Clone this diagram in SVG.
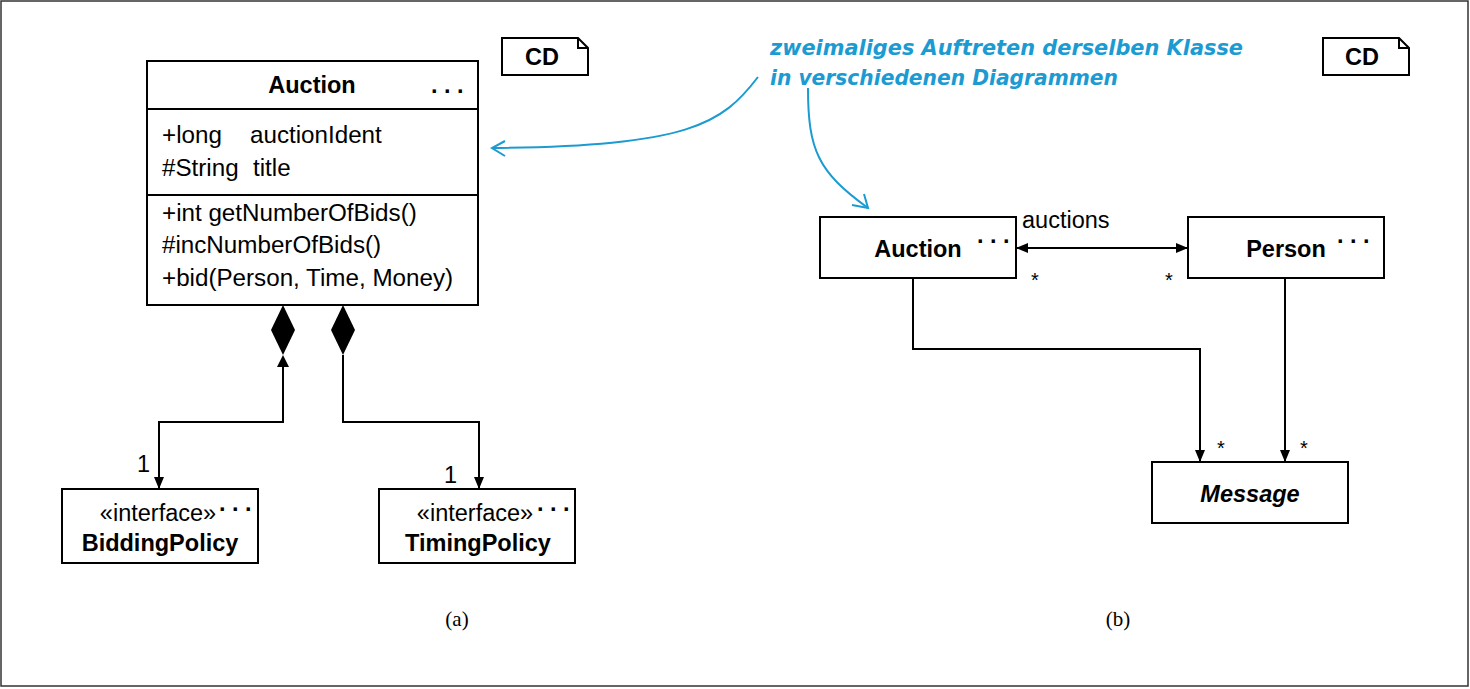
<svg xmlns="http://www.w3.org/2000/svg" width="1470" height="689" viewBox="0 0 1470 689">
<style>
.box{fill:#fff;stroke:#000;stroke-width:2}
.ln{fill:none;stroke:#000;stroke-width:2}
.t{font-family:"Liberation Sans",Arial,sans-serif;font-size:23.5px;fill:#000}
.a{font-size:24.2px}
.b{font-weight:bold}
.dots{font-family:"Liberation Sans",Arial,sans-serif;font-size:23.5px;font-weight:bold;letter-spacing:6.5px}
.star{font-family:"Liberation Sans",Arial,sans-serif;font-size:20px}
.cap{font-family:"Liberation Serif","Times New Roman",serif;font-size:21px}
.note{font-family:"DejaVu Sans",sans-serif;font-size:21px;font-weight:bold;font-style:italic;fill:#1b9bd1}
.blue{fill:none;stroke:#1b9bd1;stroke-width:2}
</style>
<defs>
<marker id="ah" viewBox="0 0 12 10" refX="12" refY="5" markerWidth="12" markerHeight="10" markerUnits="userSpaceOnUse" orient="auto-start-reverse">
<path d="M0,0 L12,5 L0,10 Z" fill="#000"/>
</marker>
</defs>
<rect x="1" y="1" width="1467" height="685" fill="#fff" stroke="#333" stroke-width="1.5"/>

<g id="cd-a">
<path class="box" d="M502,38 H578 L588,48 V75 H502 Z"/>
<path class="ln" d="M578,38 V48 H588" stroke-width="1"/>
<text class="t b" x="542" y="65" text-anchor="middle">CD</text>
</g>
<g id="cd-b">
<path class="box" d="M1323,38 H1399 L1409,48 V75 H1323 Z"/>
<path class="ln" d="M1399,38 V48 H1409" stroke-width="1"/>
<text class="t b" x="1362" y="65" text-anchor="middle">CD</text>
</g>

<g id="auction-a">
<rect class="box" x="147" y="61" width="331" height="244"/>
<line class="ln" x1="147" y1="109" x2="478" y2="109"/>
<line class="ln" x1="147" y1="195" x2="478" y2="195"/>
<text class="t b" x="312" y="93" text-anchor="middle">Auction</text>
<text class="dots" x="431" y="93">...</text>
<text class="t a" x="162" y="143">+long</text>
<text class="t a" x="250" y="143">auctionIdent</text>
<text class="t a" x="162" y="176">#String</text>
<text class="t a" x="253" y="176">title</text>
<text class="t a" x="162" y="221">+int getNumberOfBids()</text>
<text class="t a" x="162" y="253">#incNumberOfBids()</text>
<text class="t a" x="162" y="286">+bid(Person, Time, Money)</text>
</g>

<g id="bidding">
<rect class="box" x="62" y="489" width="196" height="74"/>
<text class="t" x="158" y="521" text-anchor="middle">«interface»</text>
<text class="dots" x="219" y="511">...</text>
<text class="t b" x="160" y="551" text-anchor="middle">BiddingPolicy</text>
</g>

<g id="timing">
<rect class="box" x="379" y="489" width="196" height="74"/>
<text class="t" x="475" y="521" text-anchor="middle">«interface»</text>
<text class="dots" x="537" y="511">...</text>
<text class="t b" x="478" y="551" text-anchor="middle">TimingPolicy</text>
</g>

<g id="auction-b">
<rect class="box" x="820" y="217" width="196" height="61"/>
<text class="t b" x="918" y="257" text-anchor="middle">Auction</text>
<text class="dots" x="977" y="243">...</text>
</g>

<g id="person">
<rect class="box" x="1188" y="217" width="196" height="61"/>
<text class="t b" x="1286" y="257" text-anchor="middle">Person</text>
<text class="dots" x="1337" y="243">...</text>
</g>

<g id="message">
<rect class="box" x="1152" y="462" width="196" height="61"/>
<text class="t b" x="1250" y="502" text-anchor="middle" font-style="italic">Message</text>
</g>

<g id="connectors">
<path d="M283,305 L295,330 L283,355 L271,330 Z" fill="#000"/>
<path d="M343,305 L355,330 L343,355 L331,330 Z" fill="#000"/>
<path d="M283,355 L289,367 L277,367 Z" fill="#000"/>
<path class="ln" d="M283,367 V422 H159 V489" marker-end="url(#ah)"/>
<path class="ln" d="M343,355 V422 H479 V489" marker-end="url(#ah)"/>
<text class="t" x="137" y="472" font-size="20">1</text>
<text class="t" x="444" y="483" font-size="20">1</text>

<path class="ln" d="M1016,248 H1188" marker-start="url(#ah)" marker-end="url(#ah)"/>
<text class="t" x="1022" y="228">auctions</text>
<text class="star" x="1031" y="287">*</text>
<text class="star" x="1165" y="287">*</text>
<path class="ln" d="M913,278 V349 H1200 V462" marker-end="url(#ah)"/>
<path class="ln" d="M1285,278 V462" marker-end="url(#ah)"/>
<text class="star" x="1217" y="455">*</text>
<text class="star" x="1300" y="455">*</text>

<path class="blue" d="M758,77 C722,124 690,146 492,148"/>
<path class="blue" d="M505,141 L492,148 L505,156"/>
<path class="blue" d="M808,88 C808,150 818,172 868,208"/>
<path class="blue" d="M852,205 L868,208 L864,194"/>
</g>

<g id="annotation">
<text class="note" x="770" y="55" textLength="473" lengthAdjust="spacingAndGlyphs">zweimaliges Auftreten derselben Klasse</text>
<text class="note" x="770" y="85" textLength="348" lengthAdjust="spacingAndGlyphs">in verschiedenen Diagrammen</text>
</g>

<text class="cap" x="457" y="626" text-anchor="middle">(a)</text>
<text class="cap" x="1118" y="626" text-anchor="middle">(b)</text>
</svg>
